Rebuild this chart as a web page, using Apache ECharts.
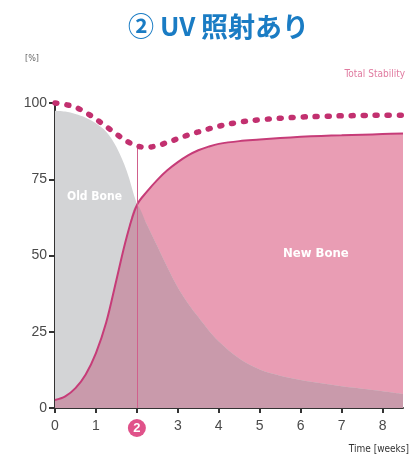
<!DOCTYPE html>
<html><head><meta charset="utf-8">
<script src="https://cdn.jsdelivr.net/npm/echarts@6/dist/echarts.min.js"></script>
<style>html,body{margin:0;padding:0;background:#fff}#c{width:411px;height:461px}</style>
</head><body><div id="c"></div>
<script>
var weeks = [0,0.25,0.5,0.75,1,1.25,1.5,1.75,2,2.25,2.5,2.75,3,3.25,3.5,3.75,4,4.5,5,5.5,6,6.5,7,7.5,8,8.5];
var oldBone = [97.5,97.2,96.4,95.2,93.4,90.6,85.6,77.8,67,60,53,46,39.5,34.3,29.8,25.5,21.8,16.2,12.6,10.6,9.2,8.1,7.1,6.3,5.5,4.6];
var newBone = [2.6,3.8,6.5,11,18,28,42,56,66.5,71,74.8,78,80.6,82.8,84.5,85.7,86.6,87.5,88,88.5,88.9,89.2,89.4,89.6,89.8,90];
var totalStability = [100,99.5,98.6,96.9,94.7,92.3,89.8,87.5,85.9,85.5,86,87.1,88.3,89.5,90.5,91.5,92.4,93.7,94.5,95,95.4,95.6,95.8,95.9,96,96];
var yTicks = [0,25,50,75,100];
var xTicks = [0,1,2,3,4,5,6,7,8];
var markWeek = 2;

function pairs(arr){ return weeks.map(function(w,i){ return [w, arr[i]]; }); }
var overlap = weeks.map(function(w,i){ return Math.min(oldBone[i], newBone[i]); });

var chart = echarts.init(document.getElementById('c'));
var cond = 'DejaVu Sans Condensed, DejaVu Sans, sans-serif';
chart.setOption({
  animation: false,
  grid: {left: 55, right: 8, top: 103, bottom: 53},
  xAxis: {
    type: 'value', min: 0, max: 8.5, interval: 1,
    splitLine: {show: false},
    axisLine: {lineStyle: {color: '#333', width: 2}},
    axisTick: {length: 5, lineStyle: {color: '#333', width: 2}},
    axisLabel: {
      margin: 11, fontSize: 14, color: '#4a4a4a', fontFamily: 'Liberation Sans, Arial, sans-serif',
      showMaxLabel: false,
      formatter: function(v){ if (v === markWeek) return '{c|' + v + '}'; return xTicks.indexOf(v) >= 0 ? String(v) : ''; },
      rich: {c: {backgroundColor: '#e0528a', color: '#fff', borderRadius: 9, width: 18, height: 18, lineHeight: 18, align: 'center', fontSize: 13, fontWeight: 'bold'}}
    }
  },
  yAxis: {
    type: 'value', min: 0, max: 100, interval: 25,
    splitLine: {show: false},
    axisLine: {show: true, lineStyle: {color: '#333', width: 2}},
    axisTick: {show: true, length: 6, lineStyle: {color: '#333', width: 2}},
    axisLabel: {margin: 8, fontSize: 14, color: '#4a4a4a', fontFamily: 'Liberation Sans, Arial, sans-serif',
      formatter: function(v){ return yTicks.indexOf(v) >= 0 ? String(v) : ''; }}
  },
  series: [
    {type: 'line', data: pairs(newBone), smooth: 0.35, symbol: 'none', lineStyle: {width: 0}, areaStyle: {color: '#e99db4', opacity: 1}, z: 1},
    {type: 'line', data: pairs(oldBone), smooth: 0.35, symbol: 'none', lineStyle: {width: 0}, areaStyle: {color: '#d3d4d6', opacity: 1}, z: 2},
    {type: 'line', data: pairs(overlap), smooth: 0.35, symbol: 'none', lineStyle: {width: 0}, areaStyle: {color: '#c99aab', opacity: 1}, z: 3,
      markLine: {silent: true, symbol: 'none', label: {show: false}, lineStyle: {color: '#d0608c', width: 1, type: 'solid'},
        data: [[{coord: [markWeek, 0]}, {coord: [markWeek, totalStability[weeks.indexOf(markWeek)]]}]]}},
    {type: 'line', data: pairs(newBone), smooth: 0.35, symbol: 'none', lineStyle: {color: '#c63c78', width: 2}, z: 4},
    {type: 'line', data: pairs(totalStability), smooth: 0.35, symbol: 'none', clip: false,
      lineStyle: {color: '#c2306f', width: 5.5, type: [2, 10], cap: 'round'}, z: 5}
  ],
  graphic: [
    {type: 'text', z: 100, left: 128, top: 13, style: {text: '②', fontSize: 26, fontWeight: 'bold', fill: '#1a7cc4', fontFamily: 'Noto Sans CJK JP'}},
    {type: 'text', z: 100, left: 160, top: 13, style: {text: 'UV', fontSize: 26, fontWeight: 'bold', fill: '#1a7cc4', fontFamily: 'Noto Sans CJK JP'}},
    {type: 'text', z: 100, left: 201, top: 13, style: {text: '照射あり', fontSize: 27, fontWeight: 'bold', fill: '#1a7cc4', fontFamily: 'Noto Sans CJK JP'}},
    {type: 'text', z: 100, left: 25, top: 54, style: {text: '[%]', fontSize: 9, fill: '#666', fontFamily: cond}},
    {type: 'text', z: 100, right: 6, top: 69, style: {text: 'Total Stability', fontSize: 10, fill: '#e07ba0', fontFamily: cond}},
    {type: 'text', z: 100, left: 67, top: 191, style: {text: 'Old Bone', fontSize: 12, fontWeight: 'bold', fill: '#fff', fontFamily: cond}},
    {type: 'text', z: 100, left: 283, top: 247, style: {text: 'New Bone', fontSize: 13, fontWeight: 'bold', fill: '#fff', fontFamily: cond}},
    {type: 'text', z: 100, right: 2, top: 444, style: {text: 'Time [weeks]', fontSize: 10, fill: '#333', fontFamily: cond}}
  ]
});
</script></body></html>
